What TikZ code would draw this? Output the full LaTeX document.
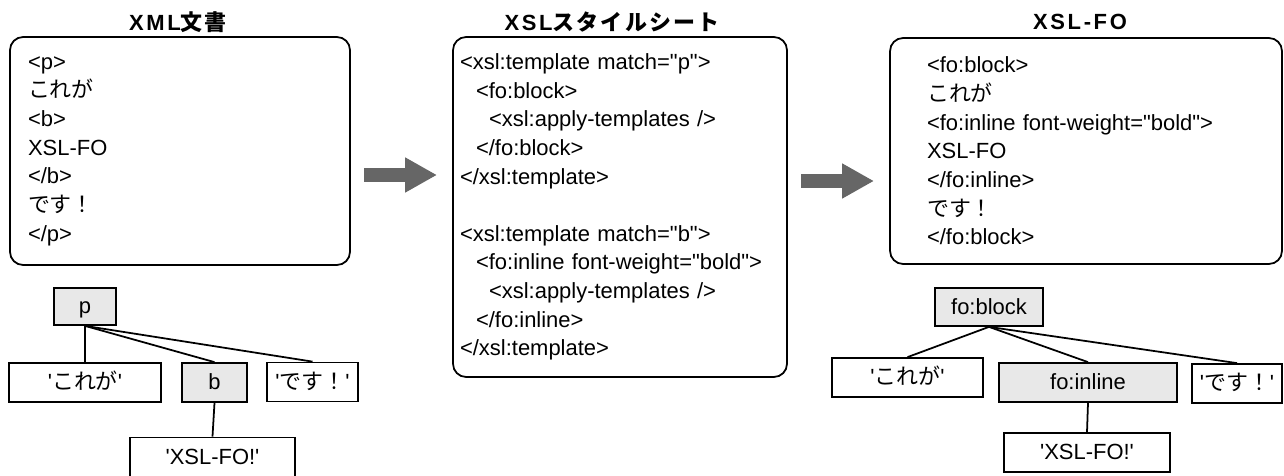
\documentclass[tikz,border=0pt]{standalone}
\usepackage{fontspec}
\usetikzlibrary{arrows.meta}
\newfontfamily\lat{Liberation Sans}
\newfontfamily\jp{Noto Sans CJK JP}
\newfontfamily\lattitle{Liberation Sans}[LetterSpace=12]
\newfontfamily\jptitle{Noto Sans CJK JP}[LetterSpace=10]
\newcommand{\ja}[1]{{\jp #1}}
\newcommand{\jat}[1]{{\jptitle #1}}

\begin{document}
\begin{tikzpicture}[x=0.02cm,y=-0.02cm,
	font=\lat\fontsize{12.5}{16.3}\selectfont,
	doc/.style={draw,line width=1pt,rounded corners=0.26cm,align=left,inner ysep=0pt},
	title/.style={font=\lattitle\bfseries\fontsize{12.5}{14}\selectfont},
	tag/.style={draw,line width=1pt,fill=gray!18,inner sep=0pt,minimum height=0.78cm,text height=9pt,text depth=0.5pt},
	leaf/.style={draw,line width=1pt,fill=white,inner sep=0pt,minimum height=0.78cm,text height=9pt,text depth=0.5pt},
	link/.style={line width=1pt},
	bigarrow/.style={draw=black!60,line width=0.3cm,-{Triangle[length=0.64cm,width=0.66cm]}}]
	\useasboundingbox (0,0) rectangle (1284,476);

	% titles
	\node[title] (xmltitle) at (178,22) {XML\jat{文書}};
	\node[title] (xsltitle) at (612,22) {XSL\jat{スタイルシート}};
	\node[title] (fotitle) at (1080,22) {XSL-FO};

	% documents
	\node[doc,minimum width=6.8cm,minimum height=4.56cm,text width=6.08cm] (xml) at (180,151) {<p>\\
		\ja{これが}\\
		<b>\\
		XSL-FO\\
		</b>\\
		\ja{です！}\\
		</p>};
	\node[doc,minimum width=6.68cm,minimum height=6.8cm,text width=6.4cm] (xsl) at (620,207) {<xsl:template match="p">\\
		\hspace*{0.32cm}<fo:block>\\
		\hspace*{0.58cm}<xsl:apply-templates />\\
		\hspace*{0.32cm}</fo:block>\\
		</xsl:template>\\[16.3pt]
		<xsl:template match="b">\\
		\hspace*{0.32cm}<fo:inline font-weight="bold">\\
		\hspace*{0.58cm}<xsl:apply-templates />\\
		\hspace*{0.32cm}</fo:inline>\\
		</xsl:template>};
	\node[doc,minimum width=7.84cm,minimum height=4.52cm,text width=6.36cm] (fo) at (1086,151) {<fo:block>\\
		\ja{これが}\\
		<fo:inline font-weight="bold">\\
		XSL-FO\\
		</fo:inline>\\
		\ja{です！}\\
		</fo:block>};

	% transformation arrows
	\coordinate (arr1s) at (364,175);
	\coordinate (arr1e) at (437,175);
	\coordinate (arr2s) at (801,181);
	\coordinate (arr2e) at (874,181);
	\draw[bigarrow] (arr1s) -- (arr1e);
	\draw[bigarrow] (arr2s) -- (arr2e);

	% source tree
	\node[tag,minimum width=1.24cm,minimum height=0.74cm] (p) at (85,306.5) {p};
	\node[leaf,minimum width=3.04cm] (kore) at (85,382.5) {'\ja{これが}'};
	\node[tag,minimum width=1.3cm] (b) at (214.5,382.5) {b};
	\node[leaf,minimum width=1.82cm] (desu) at (312.5,382) {'\ja{です！}'};
	\node[leaf,minimum width=3.3cm] (bval) at (212.5,457) {'XSL-FO!'};
	\draw[link] (p.south) -- (kore.north);
	\draw[link] (p.south) -- (b.north);
	\draw[link] (p.south) -- (desu.north);
	\draw[link] (b.south) -- (bval.north);

	% result tree
	\node[tag,minimum width=2.16cm,minimum height=0.76cm] (block) at (989,307) {fo:block};
	\node[leaf,minimum width=3.02cm] (kore2) at (907.5,377.5) {'\ja{これが}'};
	\node[tag,minimum width=3.56cm] (inline) at (1088,382.5) {fo:inline};
	\node[leaf,minimum width=1.8cm] (desu2) at (1237,383.5) {'\ja{です！}'};
	\node[leaf,minimum width=3.32cm] (ival) at (1087,452.5) {'XSL-FO!'};
	\draw[link] (block.south) -- (kore2.north);
	\draw[link] (block.south) -- (inline.north);
	\draw[link] (block.south) -- (desu2.north);
	\draw[link] (inline.south) -- (ival.north);
\end{tikzpicture}
\end{document}
